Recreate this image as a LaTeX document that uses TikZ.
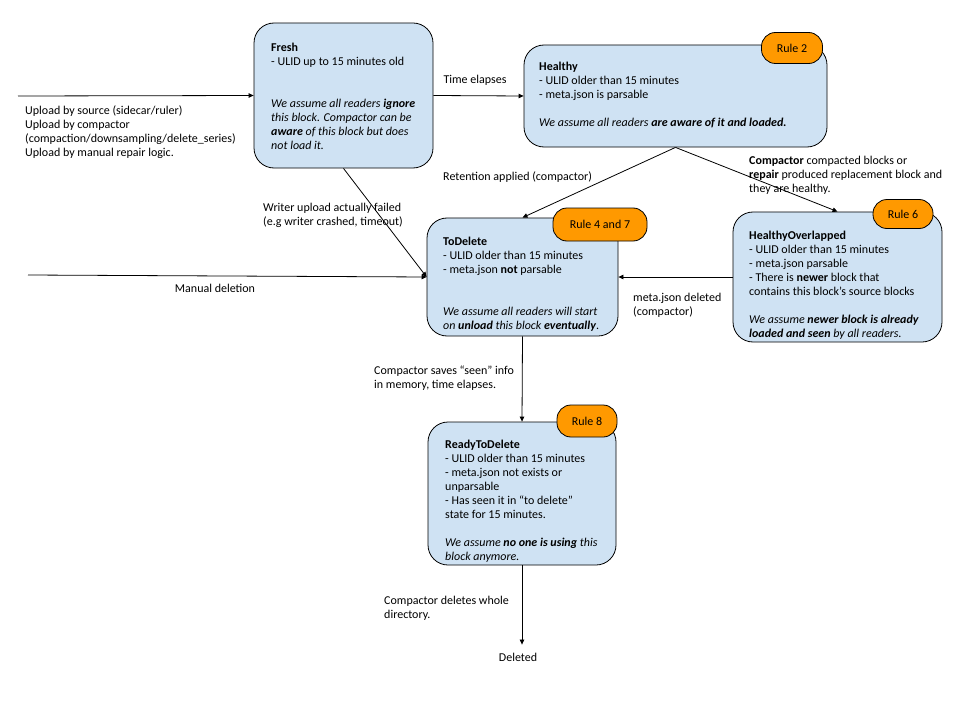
\documentclass[tikz,border=0pt]{standalone}
\usepackage{fontspec}
\setmainfont{Carlito}
\usetikzlibrary{arrows.meta, positioning}
\definecolor{boxblue}{HTML}{CFE2F3}
\definecolor{ruleorange}{HTML}{FF9900}

\begin{document}
\begin{tikzpicture}[
    x=1bp, y=-1bp,
    every node/.style={font=\fontsize{12bp}{14bp}\selectfont},
    state/.style={rectangle, rounded corners=20bp, draw, line width=0.8bp, fill=boxblue, inner sep=0pt},
    rulebadge/.style={rectangle, rounded corners=14bp, draw, line width=0.8bp, fill=ruleorange, inner sep=0pt},
    body/.style={align=left, anchor=north west, inner sep=0pt},
    note/.style={align=left, anchor=north west, inner sep=0pt},
    arrow/.style={-{Triangle[length=5bp, width=4.5bp]}, line width=0.8bp}
]
    \useasboundingbox (0,0) rectangle (960,720);

    % block states
    \node[state, minimum width=179bp, minimum height=145bp] (fresh) at (343.5,95.5) {};
    \node[state, minimum width=303bp, minimum height=102bp] (healthy) at (675.5,96) {};
    \node[state, minimum width=191bp, minimum height=118bp] (todelete) at (522.5,277) {};
    \node[state, minimum width=209bp, minimum height=130bp] (overlapped) at (837.5,277) {};
    \node[state, minimum width=188bp, minimum height=143bp] (ready) at (522,493.5) {};
    \node[inner sep=8bp] (deleted) at (518,657) {Deleted};

    \node[body] (freshtext) at (271,42.5) {\textbf{Fresh}\\
        - ULID up to 15 minutes old\\[28bp]
        \textit{We assume all readers \textbf{ignore}}\\
        \textit{this block. Compactor can be}\\
        \textit{\textbf{aware} of this block but does}\\
        \textit{not load it.}};
    \node[body] (healthytext) at (539,61.5) {\textbf{Healthy}\\
        - ULID older than 15 minutes\\
        - meta.json is parsable\\[14bp]
        \textit{We assume all readers \textbf{are aware of it and loaded.}}};
    \node[body] (todeletetext) at (443,236.5) {\textbf{ToDelete}\\
        - ULID older than 15 minutes\\
        - meta.json \textbf{not} parsable\\[28bp]
        \textit{We assume all readers will start}\\
        \textit{on \textbf{unload} this block \textbf{eventually}}.};
    \node[body] (overlappedtext) at (749,230.5) {\textbf{HealthyOverlapped}\\
        - ULID older than 15 minutes\\
        - meta.json parsable\\
        - There is \textbf{newer} block that\\
        contains this block’s source blocks\\[14bp]
        \textit{We assume \textbf{newer block is already}}\\
        \textit{\textbf{loaded and seen} by all readers.}};
    \node[body] (readytext) at (445,439.5) {\textbf{ReadyToDelete}\\
        - ULID older than 15 minutes\\
        - meta.json not exists or\\
        unparsable\\
        - Has seen it in “to delete”\\
        state for 15 minutes.\\[14bp]
        \textit{We assume \textbf{no one is using} this}\\
        \textit{block anymore.}};

    % rule badges
    \node[rulebadge, minimum width=61bp, minimum height=31bp] (rule2) at (792,48) {Rule 2};
    \node[rulebadge, minimum width=94bp, minimum height=33bp] (rule47) at (600,224.5) {Rule 4 and 7};
    \node[rulebadge, minimum width=60bp, minimum height=29bp] (rule6) at (903,214) {Rule 6};
    \node[rulebadge, minimum width=60bp, minimum height=32bp] (rule8) at (587,421) {Rule 8};

    % transitions
    \coordinate (upload) at (18,96);
    \coordinate (manual) at (28,275);
    \draw[arrow] (upload) -- (fresh.west);
    \draw[arrow] (manual) -- (todelete.west);
    \draw[arrow] (fresh.east) -- (healthy.west);
    \draw[arrow] (fresh.south) -- (todelete.west);
    \draw[arrow] (healthy.south) -- (todelete.north);
    \draw[arrow] (healthy.south) -- (overlapped.north);
    \draw[arrow] (overlapped.west) -- (todelete.east);
    \draw[arrow] (todelete.south) -- (ready.north);
    \draw[arrow] (ready.south) -- (ready.south |- deleted.north);

    % transition labels
    \node[note] (uploadlbl) at (25,105.5) {Upload by source (sidecar/ruler)\\
        Upload by compactor\\
        (compaction/downsampling/delete\_series)\\
        Upload by manual repair logic.};
    \node (timelbl) at (475,80) {Time elapses};
    \node[note] (retentionlbl) at (443,171.5) {Retention applied (compactor)};
    \node[note] (failedlbl) at (263,202.5) {Writer upload actually failed\\
        (e.g writer crashed, timeout)};
    \node (manuallbl) at (215,288) {Manual deletion};
    \node[note] (compactedlbl) at (749,155.5) {\textbf{Compactor} compacted blocks or\\
        \textbf{repair} produced replacement block and\\
        they are healthy.};
    \node[note] (metalbl) at (633,292.5) {meta.json deleted\\(compactor)};
    \node[note] (seenlbl) at (374,365.5) {Compactor saves “seen” info\\
        in memory, time elapses.};
    \node[note] (removelbl) at (384,595.5) {Compactor deletes whole\\
        directory.};
\end{tikzpicture}
\end{document}
